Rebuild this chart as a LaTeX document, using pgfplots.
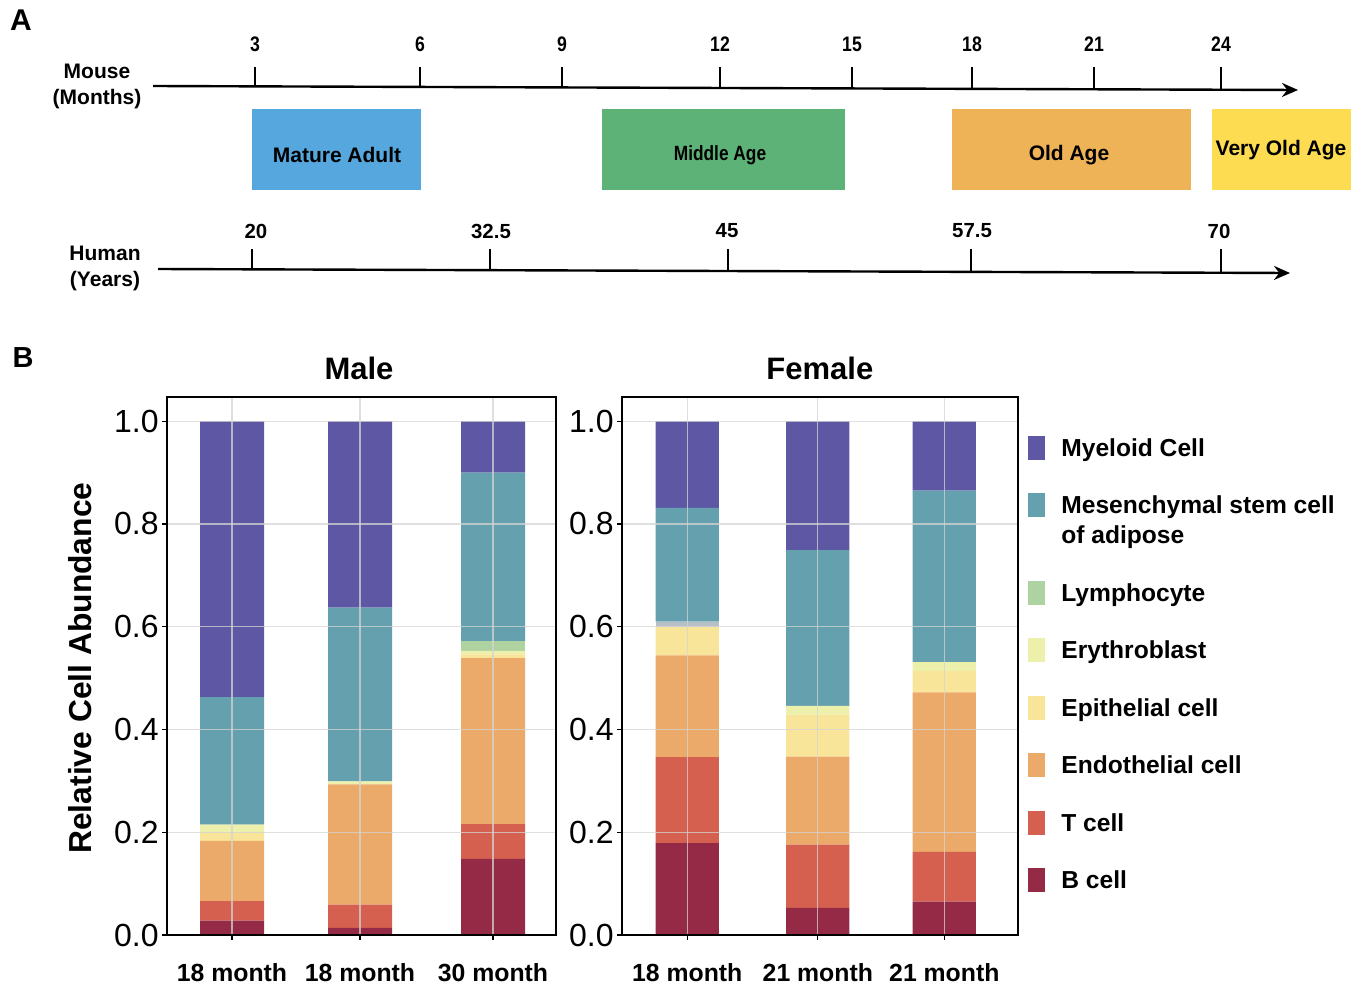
\documentclass[border=0pt]{standalone}
\usepackage{pgfplots}
\pgfplotsset{compat=1.18}
\usepackage{pgfplotstable}
\usepackage{fontspec}
\setmainfont{Liberation Sans}
\newfontfamily\narrowfont[FakeStretch=0.84]{Liberation Sans}
\usetikzlibrary{arrows.meta}

\definecolor{cMye}{RGB}{94,88,164}
\definecolor{cMSC}{RGB}{101,160,174}
\definecolor{cLym}{RGB}{174,211,160}
\definecolor{cEry}{RGB}{236,240,170}
\definecolor{cEpi}{RGB}{248,229,154}
\definecolor{cEndo}{RGB}{235,169,106}
\definecolor{cT}{RGB}{213,96,79}
\definecolor{cB}{RGB}{149,42,71}
\definecolor{cGrey}{RGB}{182,192,198}
\definecolor{cBlue}{RGB}{85,167,222}
\definecolor{cGreen}{RGB}{93,179,119}
\definecolor{cOrange}{RGB}{238,178,87}
\definecolor{cYellow}{RGB}{253,220,82}
\definecolor{gridc}{RGB}{212,212,212}

\pgfplotstableread{
x B T Endo Epi Ery Grey Lym MSC Mye
232 0.028 0.038 0.117 0.017 0.015 0 0 0.248 0.537
360 0.014 0.045 0.234 0 0.006 0 0 0.338 0.363
493 0.148 0.068 0.323 0.007 0.007 0 0.019 0.328 0.100
}\maletab

\pgfplotstableread{
x B T Endo Epi Ery Grey Lym MSC Mye
686 0.179 0.167 0.198 0.055 0 0.011 0 0.221 0.169
814 0.053 0.123 0.171 0.082 0.017 0 0 0.303 0.251
938 0.065 0.097 0.310 0.042 0.017 0 0 0.334 0.135
}\femaletab

\pgfplotsset{
  barax/.style={
    scale only axis, anchor=south west, height=269pt,
    ybar stacked, ymin=0, ymax=1.047,
    axis on top,
    axis line style={line width=1.1pt, black},
    ytick={0,0.2,0.4,0.6,0.8,1.0},
    grid=major, grid style={line width=0.6pt, draw=gridc, opacity=0.75},
    tick align=outside, major tick length=2.5pt,
    tick style={black, line width=0.6pt},
    xtick pos=lower, ytick pos=left,
    yticklabel style={font=\fontsize{16}{16}\selectfont, inner sep=1.5pt,
      /pgf/number format/.cd, fixed, fixed zerofill, precision=1, assume math mode=true},
    xticklabel style={font=\bfseries\fontsize{12.4}{14}\selectfont, anchor=center, yshift=-16.5pt},
    title style={font=\bfseries\fontsize{15.5}{18}\selectfont, anchor=center, yshift=-6pt},
    table/x=x,
  },
  seg/.style={fill=#1, draw=none},
}

\begin{document}
\begin{tikzpicture}
% ---------------- Panel A (canvas in pixel units) ----------------
\begin{axis}[at={(0pt,0pt)}, anchor=south west, scale only axis,
  width=681.5pt, height=495pt, xmin=0, xmax=1363, ymin=0, ymax=990,
  y dir=reverse, hide axis, clip=false]
\path (rel axis cs:0,0) rectangle (rel axis cs:1,1);
% stage boxes
\addplot[fill=cBlue, draw=none] coordinates {(252,109) (421,109) (421,190) (252,190)} -- cycle;
\addplot[fill=cGreen, draw=none] coordinates {(602,109) (845,109) (845,190) (602,190)} -- cycle;
\addplot[fill=cOrange, draw=none] coordinates {(952,109) (1191,109) (1191,190) (952,190)} -- cycle;
\addplot[fill=cYellow, draw=none] coordinates {(1212,109) (1351,109) (1351,190) (1212,190)} -- cycle;
% timelines
\addplot[black, line width=1.2pt, -{Stealth[length=8pt,width=7pt]}] coordinates {(153,86) (1298,90)};
\addplot[black, line width=1.2pt, -{Stealth[length=8pt,width=7pt]}] coordinates {(158,269) (1290,273)};
% mouse ticks
\addplot[black, line width=1pt] coordinates {(255,67) (255,87)};
\addplot[black, line width=1pt] coordinates {(420,67) (420,87.5)};
\addplot[black, line width=1pt] coordinates {(562,67) (562,88)};
\addplot[black, line width=1pt] coordinates {(720,67) (720,88.5)};
\addplot[black, line width=1pt] coordinates {(852,67) (852,89)};
\addplot[black, line width=1pt] coordinates {(972,67) (972,89.2)};
\addplot[black, line width=1pt] coordinates {(1094,67) (1094,89.5)};
\addplot[black, line width=1pt] coordinates {(1221,67) (1221,90)};
% human ticks
\addplot[black, line width=1pt] coordinates {(252,249) (252,270)};
\addplot[black, line width=1pt] coordinates {(490,249) (490,271)};
\addplot[black, line width=1pt] coordinates {(728,249) (728,271.5)};
\addplot[black, line width=1pt] coordinates {(971,249) (971,272.5)};
\addplot[black, line width=1pt] coordinates {(1221,249) (1221,273)};
% labels
\node[font=\bfseries\fontsize{15}{15}\selectfont] at (axis cs:21,20) {A};
\node[font=\bfseries\fontsize{14.5}{15}\selectfont] at (axis cs:23,358) {B};
\node[font=\bfseries\fontsize{10.5}{13}\selectfont, align=center] at (axis cs:97,86) {Mouse\\(Months)};
\node[font=\bfseries\fontsize{10.5}{13}\selectfont, align=center] at (axis cs:105,268.5) {Human\\(Years)};
\node[font=\narrowfont\bfseries\fontsize{10.5}{12}\selectfont] at (axis cs:255,44) {3};
\node[font=\narrowfont\bfseries\fontsize{10.5}{12}\selectfont] at (axis cs:420,44) {6};
\node[font=\narrowfont\bfseries\fontsize{10.5}{12}\selectfont] at (axis cs:562,44) {9};
\node[font=\narrowfont\bfseries\fontsize{10.5}{12}\selectfont] at (axis cs:720,44) {12};
\node[font=\narrowfont\bfseries\fontsize{10.5}{12}\selectfont] at (axis cs:852,44) {15};
\node[font=\narrowfont\bfseries\fontsize{10.5}{12}\selectfont] at (axis cs:972,44) {18};
\node[font=\narrowfont\bfseries\fontsize{10.5}{12}\selectfont] at (axis cs:1094,44) {21};
\node[font=\narrowfont\bfseries\fontsize{10.5}{12}\selectfont] at (axis cs:1221,44) {24};
\node[font=\bfseries\fontsize{10.2}{12}\selectfont] at (axis cs:256,231) {20};
\node[font=\bfseries\fontsize{10.2}{12}\selectfont] at (axis cs:491,231) {32.5};
\node[font=\bfseries\fontsize{10.2}{12}\selectfont] at (axis cs:727,231) {45};
\node[font=\bfseries\fontsize{10.2}{12}\selectfont] at (axis cs:972,231) {57.5};
\node[font=\bfseries\fontsize{10.2}{12}\selectfont] at (axis cs:1219,231) {70};
\node[font=\bfseries\fontsize{10.5}{12}\selectfont] at (axis cs:337,155) {Mature Adult};
\node[font=\narrowfont\bfseries\fontsize{10.3}{12}\selectfont] at (axis cs:720,155) {Middle Age};
\node[font=\bfseries\fontsize{10.5}{12}\selectfont] at (axis cs:1069,155) {Old Age};
\node[font=\bfseries\fontsize{10.5}{12}\selectfont] at (axis cs:1281,150) {Very Old Age};
\end{axis}

% ---------------- Panel B: Male ----------------
\begin{axis}[barax, at={(83.5pt,27.5pt)}, width=194.5pt,
  xmin=167, xmax=556, bar width=64,
  xtick={232,360,493}, xticklabels={18 month,18 month,30 month},
  title={Male}, title style={at={(axis description cs:0.4936,1.054)}},
  ylabel={Relative Cell Abundance},
  ylabel style={at={(axis description cs:-0.2237,0.496)}, anchor=center,
    font=\bfseries\fontsize{15.9}{18}\selectfont}]
\addplot[seg=cB] table[y=B]{\maletab};
\addplot[seg=cT] table[y=T]{\maletab};
\addplot[seg=cEndo] table[y=Endo]{\maletab};
\addplot[seg=cEpi] table[y=Epi]{\maletab};
\addplot[seg=cEry] table[y=Ery]{\maletab};
\addplot[seg=cGrey] table[y=Grey]{\maletab};
\addplot[seg=cLym] table[y=Lym]{\maletab};
\addplot[seg=cMSC] table[y=MSC]{\maletab};
\addplot[seg=cMye] table[y=Mye]{\maletab};
\end{axis}

% ---------------- Panel B: Female ----------------
\begin{axis}[barax, at={(311pt,27.5pt)}, width=194pt,
  xmin=622, xmax=1010, bar width=62,
  xtick={686,814,938}, xticklabels={18 month,21 month,21 month},
  title={Female}, title style={at={(axis description cs:0.5,1.054)}},
  reverse legend,
  legend image code/.code={\fill[#1] (0pt,-1.6pt) rectangle (8.5pt,10.4pt);},
  legend style={at={(axis description cs:1.0257,0.9368)}, anchor=north west,
    draw=none, fill=none, inner sep=0pt, row sep=9.75pt, column sep=6pt,
    nodes={anchor=base west, inner sep=2pt, text depth=},
    font=\bfseries\fontsize{12.3}{15}\selectfont}]
\addplot[seg=cB] table[y=B]{\femaletab};
\addlegendentry{\begin{tabular}[t]{@{}l@{}}B cell\end{tabular}}
\addplot[seg=cT] table[y=T]{\femaletab};
\addlegendentry{\begin{tabular}[t]{@{}l@{}}T cell\end{tabular}}
\addplot[seg=cEndo] table[y=Endo]{\femaletab};
\addlegendentry{\begin{tabular}[t]{@{}l@{}}Endothelial cell\end{tabular}}
\addplot[seg=cEpi] table[y=Epi]{\femaletab};
\addlegendentry{\begin{tabular}[t]{@{}l@{}}Epithelial cell\end{tabular}}
\addplot[seg=cEry] table[y=Ery]{\femaletab};
\addlegendentry{\begin{tabular}[t]{@{}l@{}}Erythroblast\end{tabular}}
\addplot[seg=cGrey, forget plot] table[y=Grey]{\femaletab};
\addplot[seg=cLym] table[y=Lym]{\femaletab};
\addlegendentry{\begin{tabular}[t]{@{}l@{}}Lymphocyte\end{tabular}}
\addplot[seg=cMSC] table[y=MSC]{\femaletab};
\addlegendentry{\begin{tabular}[t]{@{}l@{}}Mesenchymal stem cell\\of adipose\end{tabular}}
\addplot[seg=cMye] table[y=Mye]{\femaletab};
\addlegendentry{\begin{tabular}[t]{@{}l@{}}Myeloid Cell\end{tabular}}
\end{axis}
\end{tikzpicture}
\end{document}
